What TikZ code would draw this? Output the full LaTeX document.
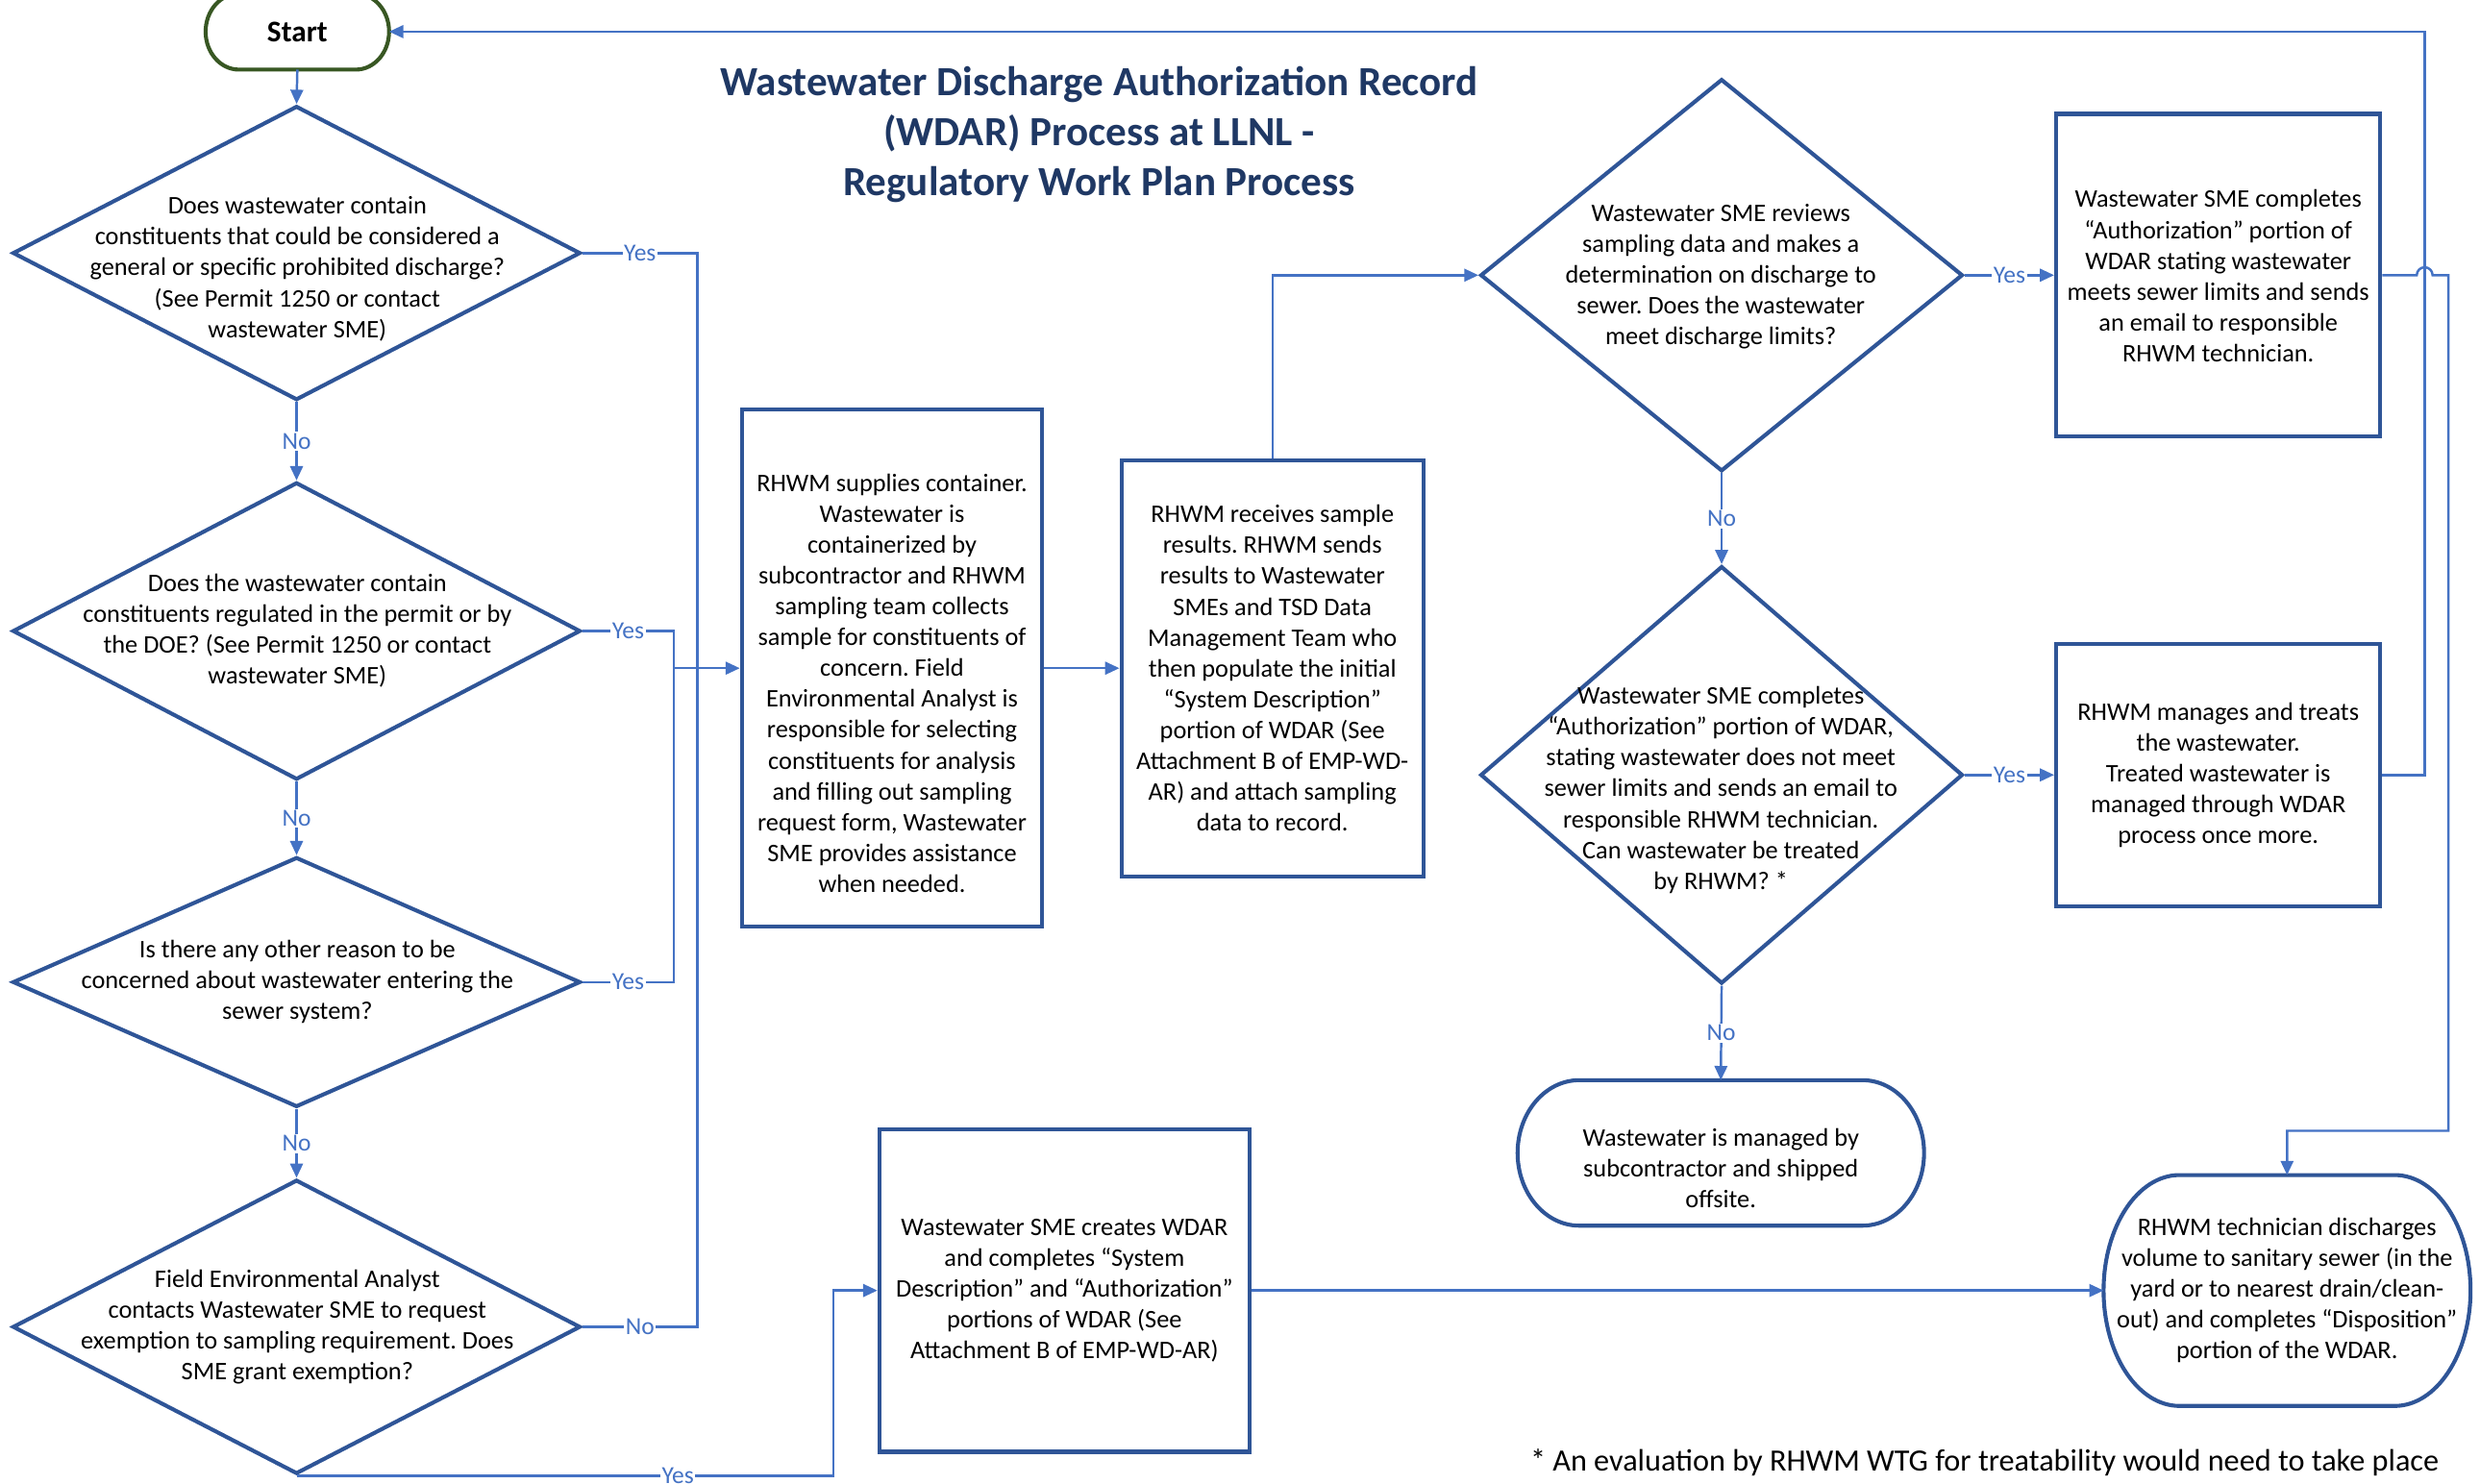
\documentclass[tikz,border=0pt]{standalone}
\usepackage{fontspec}
\setmainfont{Carlito}
\usetikzlibrary{shapes.geometric,arrows.meta}

\definecolor{shapeblue}{RGB}{47,85,151}
\definecolor{linkblue}{RGB}{68,114,196}
\definecolor{titleblue}{RGB}{31,56,100}
\definecolor{startgreen}{RGB}{56,87,35}
\frenchspacing

\begin{document}
\begin{tikzpicture}[%
      x=1pt, y=-1pt,
      border/.style={draw=shapeblue, line width=2.5pt},
      procbox/.style={rectangle, border},
      decision/.style={diamond, border, inner sep=0pt},
      txt/.style={align=center, inner sep=0pt, outer sep=0pt,
        font=\fontsize{16}{19.5}\selectfont},
      conn/.style={draw=linkblue, line width=1.5pt},
      arr/.style={-{Triangle[length=9pt,width=8pt]}},
      yn/.style={fill=white, text=linkblue, inner sep=1pt,
        font=\fontsize{15.5}{17}\selectfont},
      ]
      \useasboundingbox (0,0) rectangle (1568,938);
      \clip (0,0) rectangle (1568,938);

      % title and footnote
      \node[txt, text=titleblue, font=\bfseries\fontsize{26.2}{31.5}\selectfont] (title) at (695,85)
        {Wastewater Discharge Authorization Record\\(WDAR) Process at LLNL -\\Regulatory Work Plan Process};
      \node[txt, anchor=east, font=\fontsize{19.6}{22}\selectfont] (note) at (1542,925)
        {* An evaluation by RHWM WTG for treatability would need to take place};

      % terminals
      \draw [draw=startgreen, line width=2.5pt] (151,-4) -- (225,-4)
        arc[start angle=90, end angle=-90, x radius=21pt, y radius=24pt] -- (151,44)
        arc[start angle=270, end angle=90, x radius=21pt, y radius=24pt] -- cycle;
      \node[txt, font=\bfseries\fontsize{19}{22}\selectfont, minimum width=116pt, minimum height=48pt] (start) at (188,20) {Start};

      \draw [border] (998.5,683) -- (1177.5,683)
        arc[start angle=90, end angle=-90, x radius=39pt, y radius=46pt] -- (998.5,775)
        arc[start angle=270, end angle=90, x radius=39pt, y radius=46pt] -- cycle;
      \node[txt, minimum width=257pt, minimum height=92pt] (t2) at (1088,729) {};
      \node[txt] (t2t) at (1088,738.5) {Wastewater is managed by\\subcontractor and shipped\\offsite.};

      \draw [border] (1378,743) -- (1514,743)
        arc[start angle=90, end angle=-90, x radius=48pt, y radius=73pt] -- (1378,889)
        arc[start angle=270, end angle=90, x radius=48pt, y radius=73pt] -- cycle;
      \node[txt, minimum width=232pt, minimum height=146pt] (t3) at (1446,816)
        {RHWM technician discharges\\volume to sanitary sewer (in the\\yard or to nearest drain/clean-\\out) and completes “Disposition”\\portion of the WDAR.};

      % decisions
      \node[decision, minimum width=359pt, minimum height=186pt] (d1) at (187.5,160) {};
      \node[txt] (d1t) at (188,170) {Does wastewater contain\\constituents that could be considered a\\general or specific prohibited discharge?\\(See Permit 1250 or contact\\wastewater SME)};
      \node[decision, minimum width=359pt, minimum height=188pt] (d2) at (187.5,399) {};
      \node[txt] (d2t) at (188,399) {Does the wastewater contain\\constituents regulated in the permit or by\\the DOE? (See Permit 1250 or contact\\wastewater SME)};
      \node[decision, minimum width=359pt, minimum height=158pt] (d3) at (187.5,621) {};
      \node[txt] (d3t) at (188,621) {Is there any other reason to be\\concerned about wastewater entering the\\sewer system?};
      \node[decision, minimum width=359pt, minimum height=186pt] (d4) at (187.5,839) {};
      \node[txt] (d4t) at (188,839) {Field Environmental Analyst\\contacts Wastewater SME to request\\exemption to sampling requirement. Does\\SME grant exemption?};
      \node[decision, minimum width=305pt, minimum height=248pt] (d5) at (1088.5,174) {};
      \node[txt] (d5t) at (1088,175) {Wastewater SME reviews\\sampling data and makes a\\determination on discharge to\\sewer. Does the wastewater\\meet discharge limits?};
      \node[decision, minimum width=305pt, minimum height=264pt] (d6) at (1088.5,490) {};
      \node[txt] (d6t) at (1088,499.5) {Wastewater SME completes\\“Authorization” portion of WDAR,\\stating wastewater does not meet\\sewer limits and sends an email to\\responsible RHWM technician.\\Can wastewater be treated\\by RHWM? *};

      % process boxes
      \node[procbox, minimum width=190pt, minimum height=327pt] (p1) at (564,422.5) {};
      \node[txt] (p1t) at (564,432) {RHWM supplies container.\\Wastewater is\\containerized by\\subcontractor and RHWM\\sampling team collects\\sample for constituents of\\concern. Field\\Environmental Analyst is\\responsible for selecting\\constituents for analysis\\and filling out sampling\\request form, Wastewater\\SME provides assistance\\when needed.};
      \node[procbox, minimum width=191pt, minimum height=263pt] (p2) at (804.5,422.5) {};
      \node[txt] (p2t) at (804.5,422.5) {RHWM receives sample\\results. RHWM sends\\results to Wastewater\\SMEs and TSD Data\\Management Team who\\then populate the initial\\“System Description”\\portion of WDAR (See\\Attachment B of EMP-WD-\\AR) and attach sampling\\data to record.};
      \node[procbox, minimum width=234pt, minimum height=204pt] (p3) at (673,816) {};
      \node[txt] (p3t) at (673,816) {Wastewater SME creates WDAR\\and completes “System\\Description” and “Authorization”\\portions of WDAR (See\\Attachment B of EMP-WD-AR)};
      \node[procbox, minimum width=205pt, minimum height=204pt] (p4) at (1402.5,174) {};
      \node[txt] (p4t) at (1402.5,174.5) {Wastewater SME completes\\“Authorization” portion of\\WDAR stating wastewater\\meets sewer limits and sends\\an email to responsible\\RHWM technician.};
      \node[procbox, minimum width=205pt, minimum height=166pt] (p5) at (1402.5,490) {};
      \node[txt] (p5t) at (1402.5,490) {RHWM manages and treats\\the wastewater.\\Treated wastewater is\\managed through WDAR\\process once more.};

      % junctions
      \coordinate (jA) at (426,422.5);
      \coordinate (jB) at (441,422.5);
      \coordinate (jC) at (527,816);
      \coordinate (jD) at (1533,20);
      \coordinate (jE) at (1548,715);
      \coordinate (hop) at (1528,174);

      % connectors
      \draw [conn,arr] (start.south) -- (d1.north);
      \draw [conn,arr] (d1.south) -- node[yn]{No} (d2.north);
      \draw [conn,arr] (d2.south) -- node[yn]{No} (d3.north);
      \draw [conn,arr] (d3.south) -- node[yn]{No} (d4.north);

      \draw [conn] (d1.east) -- node[yn]{Yes} (d1.east -| jB) -- (jB);
      \draw [conn] (d2.east) -- node[yn]{Yes} (d2.east -| jA) -- (jA);
      \draw [conn] (d3.east) -- node[yn]{Yes} (d3.east -| jA) -- (jA);
      \draw [conn] (d4.east) -- node[yn]{No} (d4.east -| jB) -- (jB);
      \draw [conn,arr] (jA) -- (p1.west);
      \draw [conn,arr] (d4.south) -- node[yn,pos=0.71]{Yes} (d4.south -| jC) -- (jC) -- (p3.west);

      \draw [conn,arr] (p1.east) -- (p2.west);
      \draw [conn,arr] (p2.north) |- (d5.west);
      \draw [conn,arr] (d5.east) -- node[yn]{Yes} (p4.west);
      \draw [conn,arr] (d5.south) -- node[yn]{No} (d6.north);
      \draw [conn,arr] (d6.east) -- node[yn]{Yes} (p5.west);
      \draw [conn,arr] (d6.south) -- node[yn]{No} (t2.north);

      \draw [conn,arr] (p5.east) -- (p5.east -| jD) |- (start.east);
      \draw [conn,arr] (p4.east) -- (hop) arc[start angle=180, end angle=0, radius=5pt]
        -- (p4.east -| jE) -- (jE) -| (t3.north);
      \draw [conn,arr] (p3.east) -- (t3.west);
      \end{tikzpicture}
\end{document}
